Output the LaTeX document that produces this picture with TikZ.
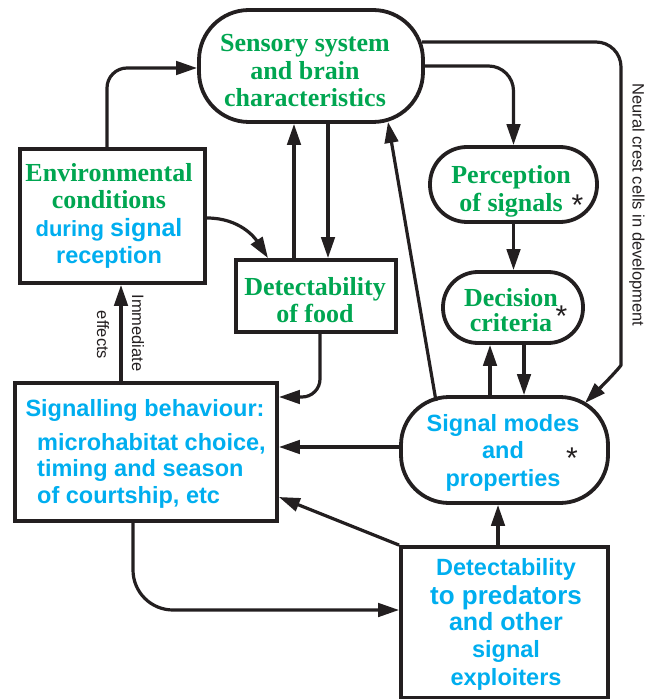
\documentclass[tikz,border=0pt]{standalone}
\usepackage{fontspec}
\setmainfont{Liberation Serif}
\newfontfamily\serifb{Liberation Serif}
\newfontfamily\sansb{Liberation Sans}
\usetikzlibrary{arrows.meta,calc}
\definecolor{gtx}{HTML}{00A651}
\definecolor{btx}{HTML}{00AEEF}
\definecolor{ink}{HTML}{231F20}
\begin{document}
\begin{tikzpicture}[x=1pt,y=-1pt,
  shapebox/.style={draw=ink, line width=3.8pt, fill=white, inner sep=0pt},
  sqbox/.style={shapebox},
  rndbox/.style={shapebox, rounded corners=#1},
  conn/.style={draw=ink, line width=3.2pt, -{Triangle[length=21pt,width=13.5pt]}},
  gtext/.style={text=gtx, font=\serifb\bfseries\fontsize{26}{27.5}\selectfont, align=center, inner sep=0pt},
  btext/.style={text=btx, font=\sansb\bfseries\fontsize{23.5}{27.5}\selectfont, align=center, inner sep=0pt},
  lbl/.style={text=ink, font=\sansb\fontsize{16.5}{18}\selectfont, inner sep=0pt},
  star/.style={text=ink, font=\sansb\fontsize{30}{30}\selectfont, inner sep=0pt, anchor=north},
]
\useasboundingbox (0,0) rectangle (654,700);

% shapes
\node[rndbox=50pt, minimum width=224pt, minimum height=112pt] (sens) at (311,66) {};
\node[sqbox, minimum width=185pt, minimum height=134pt] (env) at (112.5,216) {};
\node[sqbox, minimum width=160pt, minimum height=72pt] (food) at (316,296) {};
\node[rndbox=37pt, minimum width=167pt, minimum height=75pt] (perc) at (513.5,184.5) {};
\node[rndbox=35pt, minimum width=140pt, minimum height=71pt] (dec) at (513,307.5) {};
\node[rndbox=48pt, minimum width=207pt, minimum height=106pt] (mod) at (504.5,450) {};
\node[sqbox, minimum width=262pt, minimum height=138pt] (beh) at (146,452) {};
\node[sqbox, minimum width=207pt, minimum height=150.5pt] (pred) at (504.5,622.25) {};

% texts
\node[gtext] (senst) at (305,71) {Sensory system\\and brain\\characteristics};
\node[gtext] (envt) at (109,216) {Environmental\\conditions\\{\color{btx}\sansb\bfseries\fontsize{22}{27.5}\selectfont during {\fontsize{25}{27.5}\selectfont signal}}\\{\color{btx}\sansb\bfseries\fontsize{23.5}{27.5}\selectfont reception}};
\node[gtext] (foodt) at (315,300) {Detectability\\of food};
\node[gtext] (perct) at (511,191.5) {Perception\\of signals};
\node[gtext] (dect) at (511,310.5) {Decision\\[-2.5pt]criteria};
\node[btext] (modt) at (503,452.5) {Signal modes\\and\\properties};
\node[btext] (beht) at (145,410) {Signalling behaviour:};
\node[btext, align=left, anchor=north west, font=\sansb\bfseries\fontsize{23.5}{26.5}\selectfont] (behl) at (37,433) {microhabitat choice,\\timing and season\\of courtship, etc};
\node[btext] (predt) at (506,624) {Detectability\\[1.5pt]{\fontsize{26}{27.5}\selectfont to predators}\\[-1.5pt]{\fontsize{25}{27.5}\selectfont and other}\\signal\\exploiters};

% asterisks
\node[star] (percs) at (577.5,195) {*};
\node[star] (decs) at (561.5,306) {*};
\node[star] (mods) at (572,448) {*};

% side labels
\node[lbl, rotate=-90] (imm) at (138,333) {Immediate};
\node[lbl, rotate=-90] (eff) at (103,335) {effects};
\node[lbl, rotate=-90] (ncc) at (637,205) {Neural crest cells in development};

% helper coordinates
\coordinate (ncbend) at (621,340);
\coordinate (modne) at (585,403);
\coordinate (modnw) at (436,401);

% connectors
\draw[conn, rounded corners=20pt] ([xshift=-5.5pt]env.north) |- ([yshift=-2pt]sens.west);
\draw[conn] ([yshift=-2pt]env.east) .. controls (240,218) and (255,238) .. ([xshift=-48pt]food.north);
\draw[conn] ([xshift=-22pt]food.north) -- ([xshift=-17pt]sens.south);
\draw[conn] ([xshift=17pt]sens.south) -- ([xshift=12pt]food.north);
\draw[conn, rounded corners=25pt] (sens.east) -| (perc.north);
\draw[conn] ([xshift=-3pt,yshift=24pt]sens.east) [rounded corners=25pt] -| (ncbend) [sharp corners] .. controls (621,366) and (610,378) .. (modne);
\draw[conn] (perc.south) -- (perc.south |- dec.north);
\draw[conn] ([xshift=-14.5pt]mod.north) -- ([xshift=-23pt]dec.south);
\draw[conn] ([xshift=11pt]dec.south) -- ([xshift=19.5pt]mod.north);
\draw[conn] (modnw) -- ([xshift=77pt,yshift=2pt]sens.south);
\draw[conn] ([yshift=3pt]mod.west) -- ([yshift=5pt]beh.east);
\draw[conn] (pred.north west) -- ([yshift=-45pt]beh.east);
\draw[conn] ([xshift=-6.5pt]pred.north) -- ([xshift=-6.5pt]mod.south);
\draw[conn, rounded corners=18pt] ([xshift=4pt]food.south) |- ([yshift=55pt]beh.east);
\draw[conn, rounded corners=40pt] ([xshift=-13pt]beh.south) |- ([yshift=12.25pt]pred.west);
\draw[conn] ([xshift=-25pt]beh.north) -- ([xshift=8.5pt]env.south);
\end{tikzpicture}
\end{document}
